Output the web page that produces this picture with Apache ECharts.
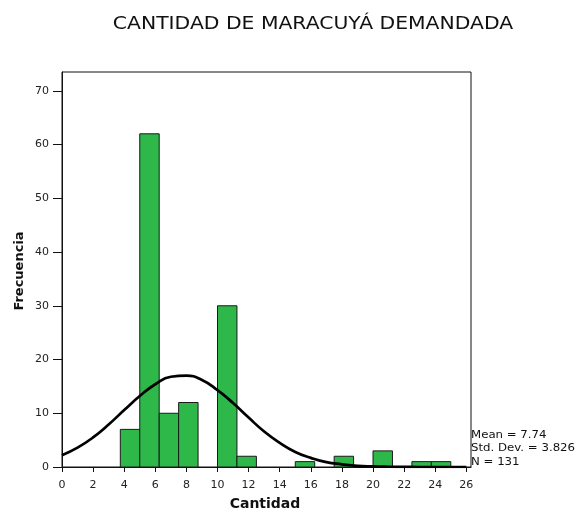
<!DOCTYPE html>
<html>
<head>
<meta charset="utf-8">
<script src="https://cdn.jsdelivr.net/npm/echarts@6/dist/echarts.min.js"></script>
<style>html,body{margin:0;padding:0;background:#fff}#c{width:577px;height:511px}</style>
</head>
<body>
<div id="c"></div>
<script>
// Histogram bins (start edge, width 1.25) and frequencies
var binStarts = [3.75, 5, 6.25, 7.5, 10, 11.25, 15, 17.5, 20, 22.5, 23.75];
var binCounts = [7, 62, 10, 12, 30, 2, 1, 2, 3, 1, 1];
var binWidth = 1.25;
// Fitted normal curve
var curveX = [0, 1, 2, 3, 4, 5, 6, 7, 8, 9, 10, 11, 12, 13, 14, 15, 16, 17, 18, 19, 20, 21, 22, 23, 24, 25, 26];
var curveY = [2.2, 3.6, 5.5, 7.9, 10.6, 13.2, 15.4, 16.8, 17.0, 16.2, 14.3, 11.9, 9.2, 6.6, 4.5, 2.8, 1.7, 0.9, 0.5, 0.2, 0.1, 0.05, 0.02, 0, 0, 0, 0];
// Tick labels
var xTicks = [0, 2, 4, 6, 8, 10, 12, 14, 16, 18, 20, 22, 24, 26];
var yTicks = [0, 10, 20, 30, 40, 50, 60, 70];
var statsLines = ['Mean = 7.74', 'Std. Dev. = 3.826', 'N = 131'];
var titleText = 'CANTIDAD DE MARACUYÁ DEMANDADA';
var xName = 'Cantidad';
var yName = 'Frecuencia';

var histData = binStarts.map(function (s, i) { return [s, s + binWidth, binCounts[i]]; });
var lineData = curveX.map(function (x, i) { return [x, curveY[i]]; });

var chart = echarts.init(document.getElementById('c'), null, {renderer: 'canvas'});
var font = 'DejaVu Sans, Verdana, sans-serif';
var graphics = [
  {type: 'text', x: 313, y: 24, scaleX: 1.13, style: {text: titleText, font: '18px ' + font, fill: '#111', align: 'center', verticalAlign: 'middle'}},
  {type: 'text', x: 265, y: 504, style: {text: xName, font: 'bold 14px ' + font, fill: '#111', align: 'center', verticalAlign: 'middle'}},
  {type: 'text', x: 20, y: 271, rotation: Math.PI / 2, style: {text: yName, font: 'bold 13px ' + font, fill: '#111', align: 'center', verticalAlign: 'middle'}}
];
statsLines.forEach(function (t, i) {
  graphics.push({type: 'text', x: 471, y: 435 + i * 13.5, scaleX: 1.12, style: {text: t, font: '10.5px ' + font, fill: '#111', align: 'left', verticalAlign: 'middle'}});
});

chart.setOption({
  animation: false,
  backgroundColor: '#fff',
  grid: {left: 62, right: 106, top: 72, bottom: 44, show: true, borderColor: '#111', borderWidth: 1, backgroundColor: 'transparent'},
  xAxis: {
    type: 'value', min: 0, max: 26.3,
    axisLine: {show: true, onZero: false, lineStyle: {color: '#111', width: 1}},
    axisTick: {show: true, length: 5, customValues: xTicks, lineStyle: {color: '#111'}},
    axisLabel: {customValues: xTicks, margin: 13, fontFamily: font, fontSize: 11, color: '#222'},
    splitLine: {show: false}
  },
  yAxis: {
    type: 'value', min: 0, max: 73.5,
    axisLine: {show: true, onZero: false, lineStyle: {color: '#111', width: 1}},
    axisTick: {show: true, length: 9, customValues: yTicks, lineStyle: {color: '#111'}},
    axisLabel: {customValues: yTicks, margin: 13, fontFamily: font, fontSize: 11, color: '#222'},
    splitLine: {show: false}
  },
  series: [
    {
      type: 'custom',
      data: histData,
      encode: {x: [0, 1], y: 2},
      renderItem: function (params, api) {
        var p0 = api.coord([api.value(0), api.value(2)]);
        var p1 = api.coord([api.value(1), 0]);
        return {
          type: 'rect',
          shape: {x: p0[0], y: p0[1], width: p1[0] - p0[0], height: p1[1] - p0[1]},
          style: {fill: '#2eb84a', stroke: '#1a1a1a', lineWidth: 1}
        };
      },
      z: 2
    },
    {
      type: 'line',
      data: lineData,
      smooth: true,
      showSymbol: false,
      lineStyle: {color: '#000', width: 2.7},
      z: 3
    }
  ],
  graphic: graphics
});
</script>
</body>
</html>
